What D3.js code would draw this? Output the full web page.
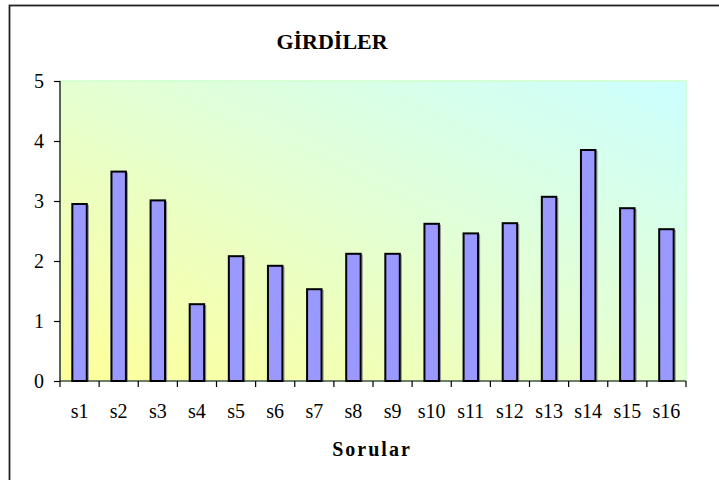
<!DOCTYPE html>
<html>
<head>
<meta charset="utf-8">
<script src="https://cdn.jsdelivr.net/npm/d3@7/dist/d3.min.js"></script>
<style>
  html, body { margin: 0; padding: 0; background: #fff; }
  svg { display: block; }
  svg text { font-family: "Liberation Serif", "Times New Roman", "DejaVu Serif", serif; }
</style>
</head>
<body>
<svg id="chart" width="719" height="480"></svg>
<script>
const categories = ["s1","s2","s3","s4","s5","s6","s7","s8","s9","s10","s11","s12","s13","s14","s15","s16"];
const values = [2.95, 3.49, 3.01, 1.28, 2.08, 1.92, 1.53, 2.12, 2.12, 2.62, 2.46, 2.63, 3.07, 3.85, 2.88, 2.53];
const yTicks = [0, 1, 2, 3, 4, 5];
const title = "GİRDİLER";
const xTitle = "Sorular";

const svg = d3.select("#chart");
const m = { left: 60, right: 686, top: 81, bottom: 381 };
const serif = "Liberation Serif, Times New Roman, serif";

// outer chart border (extends beyond right/bottom)
svg.append("rect").attr("x", 9.5).attr("y", 5.5).attr("width", 760).attr("height", 520)
  .attr("fill", "#fff").attr("stroke", "#222").attr("stroke-width", 1.8);

const defs = svg.append("defs");
const grad = defs.append("linearGradient").attr("id", "bg")
  .attr("x1", "0%").attr("y1", "100%").attr("x2", "100%").attr("y2", "0%");
grad.append("stop").attr("offset", "0%").attr("stop-color", "#ffff99");
grad.append("stop").attr("offset", "55%").attr("stop-color", "#e2ffd6");
grad.append("stop").attr("offset", "100%").attr("stop-color", "#ccffff");

const x = d3.scaleBand().domain(categories).range([m.left, m.right]).paddingInner(0).paddingOuter(0);
const y = d3.scaleLinear().domain([0, 5]).range([m.bottom, m.top]);

// plot area
svg.append("rect").attr("x", m.left).attr("y", m.top)
  .attr("width", m.right - m.left).attr("height", m.bottom - m.top)
  .attr("fill", "url(#bg)").attr("stroke", "#ccffcc").attr("stroke-width", 1.5);

// bars
const bw = x.bandwidth() * 0.37;
const g = svg.append("g");
g.selectAll("rect.shadow").data(values).join("rect")
  .attr("class", "shadow")
  .attr("x", (d, i) => x(categories[i]) + (x.bandwidth() - bw) / 2 + 1.5)
  .attr("y", d => y(d) + 1.5)
  .attr("width", bw)
  .attr("height", d => y(0) - y(d) - 1.5)
  .attr("fill", "none").attr("stroke", "#999").attr("stroke-width", 1.2);
g.selectAll("rect.bar").data(values).join("rect")
  .attr("class", "bar")
  .attr("x", (d, i) => x(categories[i]) + (x.bandwidth() - bw) / 2)
  .attr("y", d => y(d))
  .attr("width", bw)
  .attr("height", d => y(0) - y(d))
  .attr("fill", "#9999ff").attr("stroke", "#000").attr("stroke-width", 2);

// y axis
const yAxis = svg.append("g").attr("transform", `translate(${m.left},0)`)
  .call(d3.axisLeft(y).tickValues(yTicks).tickSize(6).tickPadding(10).tickFormat(d3.format("d")));
yAxis.attr("font-family", null).attr("font-size", null);
yAxis.select(".domain").attr("stroke", "#000").attr("stroke-width", 1.2).attr("d", `M0,${m.top}V${m.bottom}`);
yAxis.selectAll(".tick line").attr("stroke", "#000").attr("stroke-width", 1.2);
yAxis.selectAll(".tick text").style("font-family", serif).style("font-size", "20px").attr("fill", "#000");

// x axis
const xAxis = svg.append("g").attr("transform", `translate(0,${m.bottom})`)
  .call(d3.axisBottom(x).tickSize(0).tickPadding(0));
xAxis.attr("font-family", null).attr("font-size", null);
xAxis.select(".domain").attr("stroke", "#000").attr("stroke-width", 1.2).attr("d", `M${m.left},0H${m.right}`);
xAxis.selectAll(".tick text").style("font-family", serif).style("font-size", "20px").attr("fill", "#000")
  .attr("dy", null).attr("y", 37);
// boundary ticks
const bounds = categories.map(c => x(c)).concat([m.right]);
xAxis.selectAll("line.bt").data(bounds).join("line").attr("class", "bt")
  .attr("x1", d => d).attr("x2", d => d).attr("y1", 0).attr("y2", 6)
  .attr("stroke", "#000").attr("stroke-width", 1.2);

// titles
svg.append("text").attr("x", 332).attr("y", 49).attr("text-anchor", "middle")
  .style("font-family", serif).style("font-weight", "bold").style("font-size", "22px")
  .text(title);
svg.append("text").attr("x", 372).attr("y", 456).attr("text-anchor", "middle")
  .style("font-family", serif).style("font-weight", "bold").style("font-size", "20px")
  .attr("letter-spacing", 2)
  .text(xTitle);
</script>
</body>
</html>
